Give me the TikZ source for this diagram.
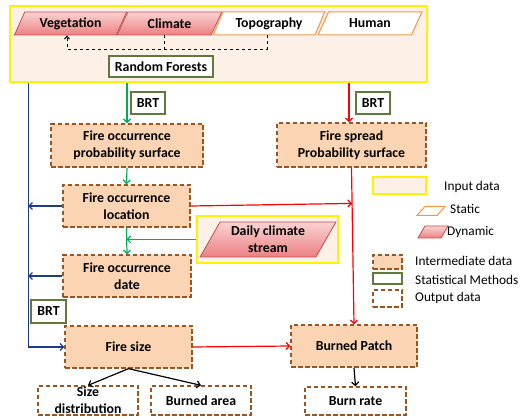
\documentclass[tikz,border=0pt]{standalone}
\usepackage{fontspec}
\setmainfont{Carlito}
\usetikzlibrary{arrows.meta,shapes.geometric,calc}
\definecolor{peach}{HTML}{FBD4B4}
\definecolor{peachlight}{HTML}{FDF0E6}
\definecolor{brownd}{HTML}{9A5520}
\definecolor{olive}{HTML}{5F7A3A}
\definecolor{pinkdark}{HTML}{C0504D}
\definecolor{pinktop}{HTML}{FBD3D3}
\definecolor{pinkbot}{HTML}{EC8082}
\definecolor{orangeb}{HTML}{F79646}
\definecolor{navy}{HTML}{1F3A8A}
\definecolor{greenl}{HTML}{00B050}
\tikzset{
  every node/.style={font=\fontsize{13.8}{17}\selectfont\bfseries, align=center, inner sep=0pt},
  inter/.style={rectangle, draw=brownd, fill=peach, dash pattern=on 4.5pt off 2.5pt, line width=1.3pt},
  outbox/.style={rectangle, draw=brownd, fill=white, dash pattern=on 4.5pt off 2.5pt, line width=1.3pt},
  statbox/.style={rectangle, draw=olive, fill=white, line width=1.3pt},
  inputbox/.style={rectangle, draw=yellow, fill=peachlight, line width=1.8pt},
  dynpar/.style={trapezium, trapezium left angle=60, trapezium right angle=120, trapezium stretches=true, draw=pinkdark, top color=pinktop, bottom color=pinkbot, line width=0.8pt},
  statpar/.style={trapezium, trapezium left angle=60, trapezium right angle=120, trapezium stretches=true, draw=orangeb, fill=white, line width=1pt},
  arr/.style={-{Straight Barb[length=3.5pt,width=7pt]}, line width=1.2pt},
  legtext/.style={font=\fontsize{13.3}{16}\selectfont, anchor=west},
}
\begin{document}
\begin{tikzpicture}[x=1pt,y=-1pt]
\useasboundingbox (0,0) rectangle (523,419);

% input block
\node[inputbox, minimum width=417, minimum height=76] (input) at (218.5,44) {};
\node[dynpar, minimum width=113, minimum height=23] (veg) at (70.5,23.5) {Vegetation};
\node[dynpar, minimum width=105, minimum height=23] (clim) at (169.5,23.5) {Climate};
\node[statpar, minimum width=112, minimum height=23] (topo) at (269,23.5) {Topography};
\node[statpar, minimum width=104, minimum height=23] (human) at (370,23.5) {Human};
\node[statbox, minimum width=104, minimum height=21] (rf) at (161,66.5) {Random Forests};

\draw[dashed, line width=1pt, -{Straight Barb[length=3pt,width=5pt]}] ([xshift=-2]topo.south) -- ++(0,14) -| ([xshift=-3.5]veg.south);
\draw[dashed, line width=1pt] ([xshift=-5.5]clim.south) -- ++(0,14);

% left column
\node[statbox, minimum width=34, minimum height=22] (brt1) at (148,103) {BRT};
\node[inter, minimum width=152, minimum height=43] (surf) at (127,145.5) {Fire occurrence\\probability surface};
\node[inter, minimum width=127, minimum height=42] (loc) at (126.5,206) {Fire occurrence\\location};
\node[inputbox, minimum width=141, minimum height=47] (dcbox) at (267.5,239.5) {};
\node[dynpar, minimum width=136, minimum height=35] (dc) at (268,239.5) {Daily climate\\stream};
\node[inter, minimum width=128, minimum height=42] (date) at (127,276) {Fire occurrence\\date};
\node[statbox, minimum width=35, minimum height=23] (brt2) at (48.5,311.5) {BRT};
\node[inter, minimum width=127, minimum height=42] (size) at (128.5,347) {Fire size};
\node[outbox, minimum width=100, minimum height=29] (sdist) at (88,400.5) {Size\\distribution};
\node[outbox, minimum width=100, minimum height=29] (barea) at (201,400.5) {Burned area};

% right column
\node[statbox, minimum width=34, minimum height=22] (brt3) at (373,103) {BRT};
\node[inter, minimum width=149, minimum height=44] (spread) at (351.5,145) {Fire spread\\Probability surface};
\node[inter, minimum width=126, minimum height=42] (patch) at (354,346) {Burned Patch};
\node[outbox, minimum width=101, minimum height=28] (brate) at (355.5,401) {Burn rate};

% blue connectors
\coordinate (btop) at ([xshift=19]input.south west);
\draw[arr, navy] (btop) |- (size.west);
\draw[arr, navy] (loc.west) -- (loc.west -| btop);
\draw[arr, navy] (date.west) -- (date.west -| btop);

% green connectors
\draw[arr, greenl] (surf.north |- input.south) -- (surf.north);
\draw[arr, greenl] (surf.south) -- (loc.north);
\draw[arr, greenl] (loc.south) -- (date.north);
\draw[arr, greenl] (dcbox.west) -- (dcbox.west -| loc.south);

% red connectors
\draw[arr, red] ([xshift=-2.5]spread.north |- input.south) -- ([xshift=-2.5]spread.north);
\draw[arr, red] (spread.south) -- (patch.north);
\draw[arr, red] (loc.east) -- ($(spread.south)!(loc.east)!(patch.north)$);
\draw[arr, red] (size.east) -- (patch.west);

% black connectors
\draw[arr, black] (size.south) -- (sdist.north);
\draw[arr, black] (size.south) -- (barea.north);
\draw[arr, black] (patch.south) -- (brate.north);

% legend
\node[inputbox, minimum width=53, minimum height=17] (lg1) at (399.5,185.5) {};
\node[legtext] (lt1) at (444,187) {Input data};
\node[statpar, trapezium left angle=48, trapezium right angle=132, minimum width=28, minimum height=9] (lg2) at (431,211) {\phantom{M}};
\node[legtext] (lt2) at (450,209) {Static};
\node[dynpar, minimum width=30, minimum height=12] (lg3) at (433,232) {\phantom{M}};
\node[legtext] (lt3) at (447,232) {Dynamic};
\node[inter, minimum width=29, minimum height=14] (lg4) at (387.5,262) {};
\node[legtext] (lt4) at (415,261) {Intermediate data};
\node[statbox, minimum width=29, minimum height=11] (lg5) at (387.5,278.5) {};
\node[legtext] (lt5) at (415,279.5) {Statistical Methods};
\node[outbox, minimum width=29, minimum height=17] (lg6) at (387.5,298.5) {};
\node[legtext] (lt6) at (415,298) {Output data};
\end{tikzpicture}
\end{document}
